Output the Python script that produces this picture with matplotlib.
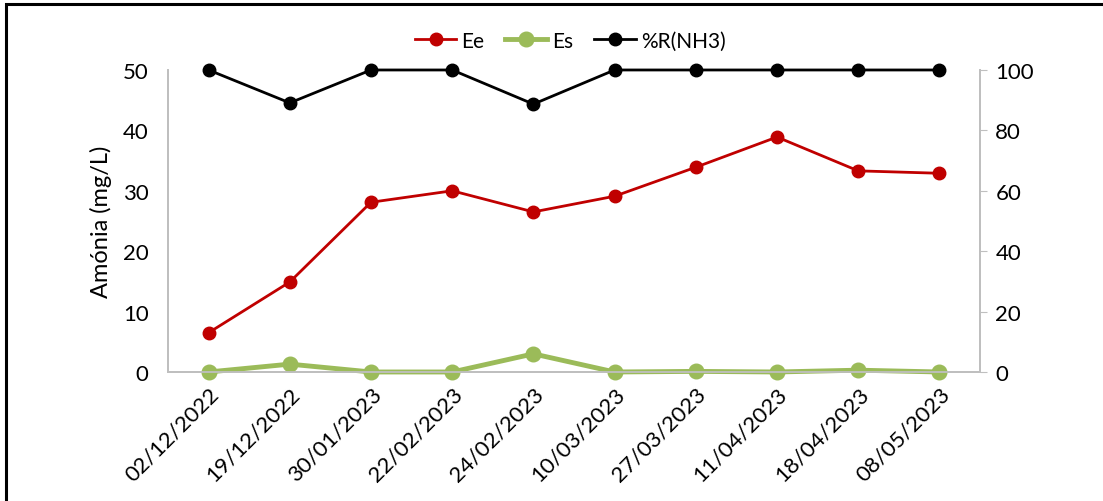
import numpy as np
import matplotlib
matplotlib.use("Agg")
import matplotlib.pyplot as plt
from matplotlib.lines import Line2D
from matplotlib.patches import Rectangle

plt.rcParams['font.family'] = ['Lato', 'DejaVu Sans']

dates = ['02/12/2022', '19/12/2022', '30/01/2023', '22/02/2023', '24/02/2023',
         '10/03/2023', '27/03/2023', '11/04/2023', '18/04/2023', '08/05/2023']
ee = [6.5, 14.9, 28.1, 30.0, 26.5, 29.1, 33.9, 38.9, 33.3, 32.9]
es = [0.0, 1.3, 0.0, 0.0, 3.0, 0.0, 0.1, 0.0, 0.3, 0.0]
rem = [100, 89.1, 100, 100, 88.7, 100, 100, 100, 100, 100]

red = '#C00000'
green = '#9BBB59'
grey = '#BFBFBF'

fig = plt.figure(figsize=(11.03, 5.02), dpi=100)
ax = fig.add_axes([0.1523, 0.257, 0.7362, 0.6016])
ax2 = ax.twinx()

x = np.arange(len(dates))
ax.plot(x, ee, color=red, lw=2, marker='o', ms=9, zorder=3, clip_on=False)
ax.plot(x, es, color=green, lw=3.5, marker='o', ms=10.5, zorder=3, clip_on=False)
ax2.plot(x, rem, color='black', lw=2, marker='o', ms=9, zorder=3, clip_on=False)

ax.set_xlim(-0.5, len(dates) - 0.5)
ax.set_ylim(0, 50)
ax2.set_ylim(0, 100)
ax.set_yticks(range(0, 51, 10))
ax2.set_yticks(range(0, 101, 20))
ax.set_xticks(x)
ax.set_xticklabels(dates, rotation=45, ha='right', rotation_mode='anchor', fontsize=16)
ax.tick_params(axis='x', length=0, pad=8)
ax.tick_params(axis='y', length=0, labelsize=16, pad=14)
ax2.tick_params(axis='y', length=5, color=grey, labelsize=16, pad=6, direction='out')
ax.set_ylabel('Amónia (mg/L)', fontsize=17, labelpad=8)

for a in (ax, ax2):
    a.spines['top'].set_visible(False)
    for s in ('left', 'right', 'bottom'):
        a.spines[s].set_color(grey)
        a.spines[s].set_linewidth(1.3)

handles = [Line2D([], [], color=red, lw=2, marker='o', ms=9),
           Line2D([], [], color=green, lw=3.5, marker='o', ms=10.5),
           Line2D([], [], color='black', lw=2, marker='o', ms=9)]
fig.legend(handles, ['Ee', 'Es', '%R(NH3)'], loc='center', bbox_to_anchor=(0.517, 0.917),
           ncol=3, frameon=False, fontsize=15, handlelength=2.0, columnspacing=1.0,
           handletextpad=0.25)

fig.patches.append(Rectangle((6 / 1103, -0.05), 1.1, 1.05 - 5 / 502,
                             transform=fig.transFigure, fill=False,
                             edgecolor='black', lw=2.2))

fig.savefig('out.png', dpi=100)
